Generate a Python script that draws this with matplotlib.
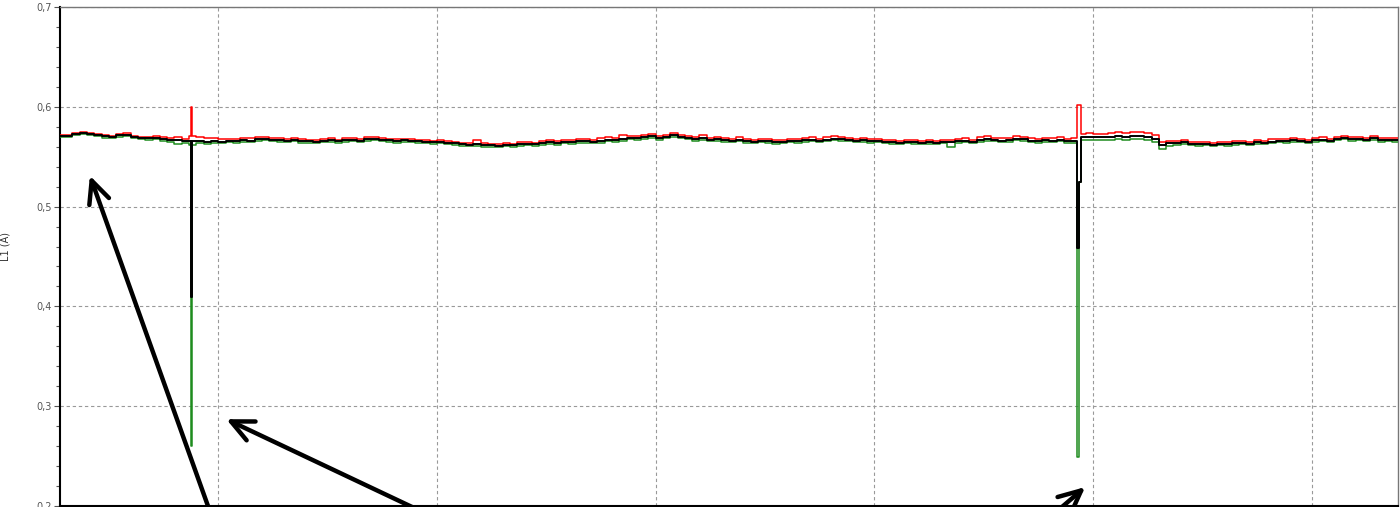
import numpy as np
import matplotlib.pyplot as plt
from matplotlib.ticker import MultipleLocator, FuncFormatter

# sample index of the first value (one value per sample step)
first_sample = 8

# mean current per sample (A)
l1_avg = [
    0.5705, 0.5710, 0.5725, 0.5735, 0.5730, 0.5715, 0.5705, 0.5700,
    0.5715, 0.5720, 0.5700, 0.5690, 0.5685, 0.5690, 0.5680, 0.5670,
    0.5665, 0.5660, 0.5655, 0.5660, 0.5650, 0.5655, 0.5650, 0.5660,
    0.5655, 0.5665, 0.5660, 0.5675, 0.5680, 0.5670, 0.5665, 0.5660,
    0.5670, 0.5660, 0.5655, 0.5650, 0.5660, 0.5665, 0.5655, 0.5665,
    0.5670, 0.5660, 0.5675, 0.5680, 0.5670, 0.5665, 0.5660, 0.5665,
    0.5660, 0.5655, 0.5650, 0.5645, 0.5650, 0.5640, 0.5635, 0.5625,
    0.5620, 0.5630, 0.5620, 0.5615, 0.5610, 0.5620, 0.5615, 0.5625,
    0.5630, 0.5625, 0.5635, 0.5645, 0.5640, 0.5650, 0.5645, 0.5655,
    0.5660, 0.5650, 0.5660, 0.5670, 0.5665, 0.5680, 0.5690, 0.5685,
    0.5695, 0.5705, 0.5690, 0.5700, 0.5715, 0.5700, 0.5690, 0.5680,
    0.5685, 0.5670, 0.5675, 0.5665, 0.5660, 0.5670, 0.5655, 0.5650,
    0.5660, 0.5655, 0.5645, 0.5650, 0.5660, 0.5655, 0.5665, 0.5670,
    0.5660, 0.5670, 0.5680, 0.5675, 0.5670, 0.5660, 0.5665, 0.5655,
    0.5660, 0.5650, 0.5645, 0.5640, 0.5650, 0.5645, 0.5640, 0.5645,
    0.5640, 0.5650, 0.5645, 0.5655, 0.5660, 0.5650, 0.5665, 0.5675,
    0.5670, 0.5660, 0.5665, 0.5680, 0.5675, 0.5660, 0.5655, 0.5665,
    0.5660, 0.5670, 0.5655, 0.5660, 0.5695, 0.5700, 0.5700, 0.5695,
    0.5700, 0.5705, 0.5700, 0.5705, 0.5710, 0.5695, 0.5680, 0.5620,
    0.5640, 0.5635, 0.5645, 0.5630, 0.5625, 0.5630, 0.5620, 0.5630,
    0.5625, 0.5635, 0.5640, 0.5630, 0.5645, 0.5640, 0.5650, 0.5660,
    0.5655, 0.5665, 0.5660, 0.5650, 0.5665, 0.5670, 0.5660, 0.5680,
    0.5690, 0.5675, 0.5680, 0.5670, 0.5685, 0.5665, 0.5670, 0.5665,
]

# maximum current per sample (A)
l1_max = [
    0.5715, 0.5720, 0.5735, 0.5745, 0.5740, 0.5725, 0.5715, 0.5710,
    0.5725, 0.5735, 0.5710, 0.5700, 0.5695, 0.5705, 0.5695, 0.5685,
    0.5700, 0.5680, 0.5710, 0.5700, 0.5690, 0.5685, 0.5675, 0.5680,
    0.5680, 0.5690, 0.5685, 0.5700, 0.5700, 0.5690, 0.5685, 0.5680,
    0.5690, 0.5680, 0.5670, 0.5665, 0.5680, 0.5690, 0.5670, 0.5685,
    0.5690, 0.5675, 0.5695, 0.5700, 0.5690, 0.5680, 0.5675, 0.5680,
    0.5675, 0.5670, 0.5665, 0.5660, 0.5665, 0.5655, 0.5650, 0.5640,
    0.5635, 0.5665, 0.5640, 0.5630, 0.5625, 0.5640, 0.5630, 0.5645,
    0.5650, 0.5640, 0.5655, 0.5665, 0.5660, 0.5670, 0.5665, 0.5675,
    0.5680, 0.5670, 0.5690, 0.5695, 0.5685, 0.5720, 0.5710, 0.5705,
    0.5715, 0.5725, 0.5710, 0.5720, 0.5740, 0.5720, 0.5710, 0.5700,
    0.5720, 0.5690, 0.5695, 0.5685, 0.5680, 0.5695, 0.5675, 0.5670,
    0.5680, 0.5675, 0.5665, 0.5670, 0.5680, 0.5675, 0.5690, 0.5695,
    0.5680, 0.5695, 0.5705, 0.5695, 0.5690, 0.5680, 0.5690, 0.5675,
    0.5680, 0.5670, 0.5665, 0.5660, 0.5670, 0.5665, 0.5660, 0.5665,
    0.5660, 0.5670, 0.5665, 0.5680, 0.5685, 0.5670, 0.5700, 0.5710,
    0.5690, 0.5685, 0.5690, 0.5705, 0.5700, 0.5685, 0.5680, 0.5690,
    0.5685, 0.5695, 0.5680, 0.5685, 0.5730, 0.5735, 0.5730, 0.5730,
    0.5740, 0.5745, 0.5740, 0.5745, 0.5750, 0.5735, 0.5715, 0.5650,
    0.5660, 0.5655, 0.5665, 0.5650, 0.5645, 0.5650, 0.5640, 0.5650,
    0.5645, 0.5655, 0.5660, 0.5650, 0.5665, 0.5660, 0.5675, 0.5680,
    0.5675, 0.5690, 0.5680, 0.5670, 0.5690, 0.5700, 0.5680, 0.5700,
    0.5705, 0.5695, 0.5700, 0.5690, 0.5705, 0.5685, 0.5690, 0.5685,
]

# minimum current per sample (A)
l1_min = [
    0.5695, 0.5700, 0.5715, 0.5725, 0.5720, 0.5705, 0.5690, 0.5690,
    0.5700, 0.5710, 0.5690, 0.5675, 0.5670, 0.5675, 0.5660, 0.5645,
    0.5625, 0.5640, 0.5620, 0.5640, 0.5630, 0.5640, 0.5635, 0.5645,
    0.5640, 0.5650, 0.5645, 0.5660, 0.5665, 0.5655, 0.5650, 0.5645,
    0.5655, 0.5640, 0.5640, 0.5635, 0.5645, 0.5650, 0.5640, 0.5650,
    0.5655, 0.5645, 0.5660, 0.5665, 0.5655, 0.5650, 0.5640, 0.5650,
    0.5645, 0.5640, 0.5635, 0.5630, 0.5635, 0.5625, 0.5615, 0.5610,
    0.5605, 0.5610, 0.5600, 0.5600, 0.5595, 0.5605, 0.5600, 0.5610,
    0.5615, 0.5605, 0.5620, 0.5630, 0.5620, 0.5635, 0.5630, 0.5640,
    0.5640, 0.5635, 0.5640, 0.5655, 0.5645, 0.5660, 0.5675, 0.5665,
    0.5680, 0.5690, 0.5670, 0.5685, 0.5700, 0.5685, 0.5675, 0.5660,
    0.5665, 0.5655, 0.5660, 0.5650, 0.5645, 0.5655, 0.5640, 0.5635,
    0.5645, 0.5640, 0.5630, 0.5635, 0.5645, 0.5640, 0.5650, 0.5655,
    0.5645, 0.5655, 0.5665, 0.5660, 0.5655, 0.5645, 0.5650, 0.5640,
    0.5645, 0.5635, 0.5630, 0.5625, 0.5635, 0.5630, 0.5625, 0.5630,
    0.5625, 0.5635, 0.5600, 0.5640, 0.5645, 0.5635, 0.5650, 0.5660,
    0.5655, 0.5645, 0.5650, 0.5665, 0.5660, 0.5645, 0.5640, 0.5650,
    0.5645, 0.5655, 0.5635, 0.5640, 0.5665, 0.5670, 0.5670, 0.5665,
    0.5670, 0.5675, 0.5670, 0.5675, 0.5680, 0.5665, 0.5650, 0.5575,
    0.5605, 0.5620, 0.5630, 0.5615, 0.5610, 0.5615, 0.5605, 0.5615,
    0.5610, 0.5620, 0.5625, 0.5615, 0.5630, 0.5625, 0.5635, 0.5645,
    0.5640, 0.5650, 0.5645, 0.5635, 0.5650, 0.5655, 0.5645, 0.5665,
    0.5675, 0.5660, 0.5665, 0.5655, 0.5670, 0.5650, 0.5655, 0.5650,
]

# short events (start sample, duration in samples, avg/min/max)
spike_t = [26.3, 147.75, 148.0]
spike_w = [0.12, 0.25, 0.3]
spike_avg = [0.409, 0.459, 0.525]
spike_min = [0.260, 0.249, 0.525]
spike_max = [0.600, 0.602, 0.602]

y_ticks = [0.2, 0.3, 0.4, 0.5, 0.6, 0.7]

# merge regular samples and the short events into one timeline
rows = {}
for k in range(len(l1_avg)):
    rows[round(first_sample + k, 3)] = (l1_avg[k], l1_min[k], l1_max[k])
for t, w in zip(spike_t, spike_w):
    k = int(np.floor(t + w)) - first_sample
    rows[round(t + w, 3)] = (l1_avg[k], l1_min[k], l1_max[k])
for t, a, lo, hi in zip(spike_t, spike_avg, spike_min, spike_max):
    rows[round(t, 3)] = (a, lo, hi)

times = sorted(rows)
avg = [rows[t][0] for t in times]
mn = [rows[t][1] for t in times]
mx = [rows[t][2] for t in times]
end_t = first_sample + len(l1_avg)
times = times + [end_t]
avg = avg + [avg[-1]]
mn = mn + [mn[-1]]
mx = mx + [mx[-1]]

fig = plt.figure(figsize=(14, 5.07), dpi=100)
ax = fig.add_axes([60 / 1400, 1 / 507, 1338 / 1400, 499 / 507])

ax.plot(times, mn, drawstyle='steps-post', color='#1e8c1e', lw=1.1, zorder=3)
ax.plot(times, mx, drawstyle='steps-post', color='#ff0000', lw=1.1, zorder=4)
ax.plot(times, avg, drawstyle='steps-post', color='black', lw=1.4, zorder=5)

ax.set_xlim(8.3, 191.8)
ax.set_ylim(0.2, 0.7)

ax.xaxis.set_major_locator(MultipleLocator(30))
ax.set_yticks(y_ticks)
ax.yaxis.set_minor_locator(MultipleLocator(0.02))
ax.yaxis.set_major_formatter(FuncFormatter(lambda v, p: f'{v:.1f}'.replace('.', ',')))
ax.tick_params(axis='x', length=0, labelbottom=False)
ax.tick_params(axis='y', which='major', length=4, width=0.8, pad=2,
               labelsize=7, labelcolor='#555555', color='#555555')
ax.tick_params(axis='y', which='minor', length=3, width=0.8, color='#555555')

ax.grid(True, which='major', color='#999999', linestyle=(0, (3, 2.5)), lw=0.8)
ax.set_axisbelow(True)

for side in ['left', 'bottom']:
    ax.spines[side].set_color('black')
    ax.spines[side].set_linewidth(1.5)
for side in ['top', 'right']:
    ax.spines[side].set_color('#777777')
    ax.spines[side].set_linewidth(1.0)

ax.set_ylabel('L1 (A)', fontsize=7, color='#333333')
ax.yaxis.set_label_coords(-0.037, 0.52)

# annotation arrows
arrows = [((12.4, 0.531), (29.23, 0.187)),
          ((31.1, 0.287), (60.06, 0.187)),
          ((148.9, 0.219), (143.8, 0.187))]
for head, tail in arrows:
    ax.annotate('', xy=head, xytext=tail, annotation_clip=False,
                arrowprops=dict(arrowstyle='->,head_length=1.6,head_width=0.75',
                                lw=3.2, color='black', shrinkA=0, shrinkB=0),
                zorder=10)

fig.savefig('out.png', dpi=100)
